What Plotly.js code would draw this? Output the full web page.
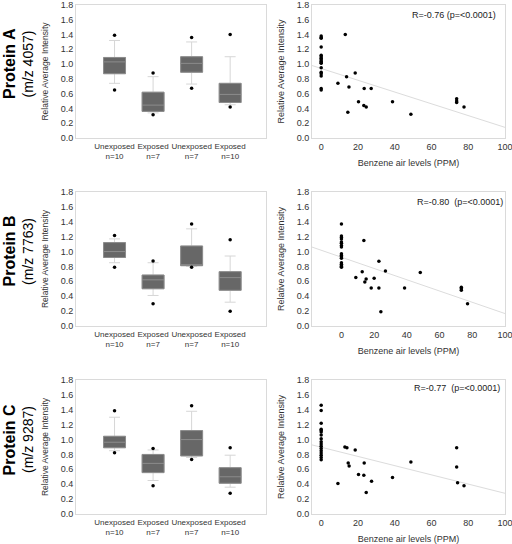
<!DOCTYPE html>
<html><head><meta charset="utf-8">
<script src="https://cdn.plot.ly/plotly-3.0.1.min.js"></script>
<style>html,body{margin:0;padding:0;background:#fff}</style>
</head><body><div id="chart" style="width:512px;height:544px"></div>
<script>
// ---- categories ----
const groupLabels = ['Unexposed<br>n=10', 'Exposed<br>n=7', 'Unexposed<br>n=7', 'Exposed<br>n=10'];
const groupPos = [1, 2, 3, 4];
const proteinNames = ['Protein A', 'Protein B', 'Protein C'];
const proteinMz = ['(m/z 4057)', '(m/z 7763)', '(m/z 9287)'];
const corrLabels = ['R=-0.76 (p=<0.0001)', 'R=-0.80\u00a0\u00a0(p=<0.0001)', 'R=-0.77\u00a0\u00a0(p=<0.0001)'];
const yTicks = [0, 0.2, 0.4, 0.6, 0.8, 1.0, 1.2, 1.4, 1.6, 1.8];
const xTicksPPM = [0, 20, 40, 60, 80, 100];

// ---- Protein A box stats ----
const boxA_q1 = [0.87, 0.36, 0.89, 0.48];
const boxA_med = [1.03, 0.445, 1.01, 0.59];
const boxA_q3 = [1.09, 0.62, 1.10, 0.74];
const boxA_lo = [0.74, 0.34, 0.73, 0.45];
const boxA_hi = [1.32, 0.83, 1.30, 1.10];
const boxA_max = [1.39, 0.88, 1.36, 1.40];
const boxA_min = [0.65, 0.315, 0.675, 0.42];
// ---- Protein B box stats ----
const boxB_q1 = [0.92, 0.50, 0.81, 0.48];
const boxB_med = [1.00, 0.62, 0.82, 0.65];
const boxB_q3 = [1.12, 0.685, 1.075, 0.73];
const boxB_lo = [0.85, 0.41, 0.80, 0.32];
const boxB_hi = [1.17, 0.85, 1.305, 0.94];
const boxB_max = [1.215, 0.873, 1.37, 1.157];
const boxB_min = [0.79, 0.30, 0.79, 0.198];
// ---- Protein C box stats ----
const boxC_q1 = [0.89, 0.556, 0.78, 0.413];
const boxC_med = [0.964, 0.68, 1.00, 0.50];
const boxC_q3 = [1.044, 0.80, 1.12, 0.622];
const boxC_lo = [0.85, 0.45, 0.76, 0.36];
const boxC_hi = [1.30, 0.86, 1.38, 0.79];
const boxC_max = [1.387, 0.88, 1.453, 0.89];
const boxC_min = [0.822, 0.378, 0.733, 0.28];

// ---- scatter: benzene air level (PPM) vs intensity ----
const ppmA = [0,0,0,0,0,0,0,0,0,0,0,0,0,0,0,0,0, 13.1,13.8,9.1,18.5,15.1,23.4,27.2,20.3,23.2,24.5,14.5,38.8,48.8,73.7,73.7,73.7,77.7];
const intA = [1.38,1.36,1.35,1.23,1.12,1.10,1.08,1.06,1.04,1.02,1.01,0.95,0.89,0.87,0.84,0.67,0.65, 1.40,0.83,0.74,0.88,0.69,0.67,0.67,0.49,0.44,0.42,0.35,0.49,0.32,0.53,0.50,0.48,0.42];
const ppmB = [0,0,0,0,0,0,0,0,0,0,0,0,0,0,0,0,0, 13.7,8.8,12.7,14.3,15.1,18.2,20.0,22.9,22.9,24.1,26.9,38.6,48.2,73.3,73.3,73.3,77.1];
const intB = [1.37,1.21,1.19,1.17,1.13,1.11,1.08,1.06,0.97,0.95,0.93,0.91,0.85,0.83,0.81,0.80,0.79, 1.15,0.65,0.73,0.59,0.63,0.51,0.64,0.51,0.87,0.19,0.74,0.51,0.72,0.52,0.50,0.48,0.30];
const ppmC = [0,0,0,0,0,0,0,0,0,0,0,0,0,0,0,0,0, 9.1,12.9,14.0,18.5,14.7,15.2,20.3,23.4,23.2,24.5,27.4,38.8,48.8,73.7,73.7,74.2,77.7];
const intC = [1.46,1.39,1.22,1.14,1.12,1.10,1.06,1.01,0.97,0.94,0.91,0.88,0.85,0.82,0.79,0.76,0.73, 0.41,0.90,0.89,0.86,0.685,0.645,0.53,0.685,0.52,0.29,0.44,0.49,0.70,0.89,0.63,0.42,0.38];

// ---- linear trend (intercept, slope) and x extents ----
const fitA = [0.941, -0.00797];
const fitB = [0.924, -0.00757];
const fitC = [0.897, -0.00619];
const xRangeA = [-5, 100];
const xRangeB = [-18, 100];
const xRangeC = [-5, 100];

const FONT = 'Arial, "Liberation Sans", sans-serif';
const boxSets = [
  [boxA_q1, boxA_med, boxA_q3, boxA_lo, boxA_hi, boxA_max, boxA_min],
  [boxB_q1, boxB_med, boxB_q3, boxB_lo, boxB_hi, boxB_max, boxB_min],
  [boxC_q1, boxC_med, boxC_q3, boxC_lo, boxC_hi, boxC_max, boxC_min]
];
const scatSets = [[ppmA, intA, fitA, xRangeA], [ppmB, intB, fitB, xRangeB], [ppmC, intC, fitC, xRangeC]];

const traces = [];
const layout = {
  width: 512, height: 544, margin: {l: 0, r: 0, t: 0, b: 0},
  paper_bgcolor: '#fff', plot_bgcolor: '#fff', showlegend: false,
  font: {family: FONT, color: '#222', size: 9},
  annotations: []
};
// row pixel extents (top, bottom)
const rows = [[5, 138], [192, 326], [380, 514]];
const H = 544, W = 512;
const leftDom = [76 / W, 266 / W];
const rightDom = [312 / W, 505 / W];
const corrPos = [[498, 15], [505, 202], [502, 388]];

function yAxis(dom, anchor, titleSize) {
  return {
    domain: dom, anchor: anchor, range: [0, 1.8], tickvals: yTicks, tickformat: '.1f',
    showline: true, mirror: true, linecolor: '#dadada', linewidth: 1,
    showgrid: false, zeroline: false, ticks: '', tickfont: {size: 9, color: '#333'},
    title: {text: 'Relative Average Intensity', font: {size: titleSize, color: '#333'}, standoff: 10}
  };
}

for (let r = 0; r < 3; r++) {
  const iL = 2 * r + 1, iR = 2 * r + 2;
  const xL = 'x' + iL, yL = 'y' + iL, xR = 'x' + iR, yR = 'y' + iR;
  const dom = [1 - rows[r][1] / H, 1 - rows[r][0] / H];
  const b = boxSets[r];
  // whiskers (light)
  traces.push({
    type: 'box', xaxis: xL, yaxis: yL, x: groupPos,
    q1: b[0], median: b[1], q3: b[2], lowerfence: b[3], upperfence: b[4],
    width: 0.57, whiskerwidth: 0.5, fillcolor: '#676767',
    line: {color: '#d6d6d6', width: 1}, boxpoints: false, hoverinfo: 'skip'
  });
  // box body and median (drawn on top, no whiskers)
  traces.push({
    type: 'box', xaxis: xL, yaxis: yL, x: groupPos,
    q1: b[0], median: b[1], q3: b[2], lowerfence: b[0], upperfence: b[2],
    width: 0.57, whiskerwidth: 0, fillcolor: '#676767',
    line: {color: '#8c8c8c', width: 1}, boxpoints: false, hoverinfo: 'skip'
  });
  traces.push({
    type: 'scatter', mode: 'markers', xaxis: xL, yaxis: yL,
    x: groupPos.concat(groupPos), y: b[5].concat(b[6]),
    marker: {color: '#000', size: 3.5}, hoverinfo: 'skip'
  });
  const s = scatSets[r];
  traces.push({
    type: 'scatter', mode: 'lines', xaxis: xR, yaxis: yR,
    x: s[3], y: s[3].map(v => s[2][0] + s[2][1] * v),
    line: {color: '#dcdcdc', width: 1}, hoverinfo: 'skip'
  });
  traces.push({
    type: 'scatter', mode: 'markers', xaxis: xR, yaxis: yR,
    x: s[0], y: s[1], marker: {color: '#000', size: 3.5}, hoverinfo: 'skip'
  });

  layout['xaxis' + iL] = {
    domain: leftDom, anchor: yL, range: [0, 4.93], tickvals: groupPos, ticktext: groupLabels,
    showline: true, mirror: true, linecolor: '#dadada', showgrid: false, zeroline: false,
    ticks: '', tickfont: {size: 8, color: '#333'}, tickangle: 0
  };
  layout['yaxis' + iL] = yAxis(dom, xL, 8.5);
  layout['xaxis' + iR] = {
    domain: rightDom, anchor: yR, range: s[3], tickvals: xTicksPPM,
    showline: true, mirror: true, linecolor: '#dadada', showgrid: false, zeroline: false,
    ticks: '', tickfont: {size: 9, color: '#333'}, ticklabeloverflow: 'allow',
    title: {text: 'Benzene air levels (PPM)', font: {size: 9, color: '#333'}, standoff: 8}
  };
  layout['yaxis' + iR] = yAxis(dom, xR, 9);

  const cy = 1 - (rows[r][0] + rows[r][1] - 15) / 2 / H;
  layout.annotations.push({
    xref: 'paper', yref: 'paper', x: 9 / W, y: cy, text: '<b>' + proteinNames[r] + '</b>',
    textangle: -90, showarrow: false, xanchor: 'center', yanchor: 'middle',
    font: {size: 16, color: '#000', family: FONT}
  });
  layout.annotations.push({
    xref: 'paper', yref: 'paper', x: 27.5 / W, y: cy, text: proteinMz[r],
    textangle: -90, showarrow: false, xanchor: 'center', yanchor: 'middle',
    font: {size: 14, color: '#000', family: FONT}
  });
  layout.annotations.push({
    xref: 'paper', yref: 'paper', x: corrPos[r][0] / W, y: 1 - corrPos[r][1] / H,
    text: corrLabels[r], showarrow: false, xanchor: 'right', yanchor: 'middle',
    font: {size: 9, color: '#222', family: FONT}
  });
}

Plotly.newPlot('chart', traces, layout, {staticPlot: true, displayModeBar: false});
</script>
</body></html>
